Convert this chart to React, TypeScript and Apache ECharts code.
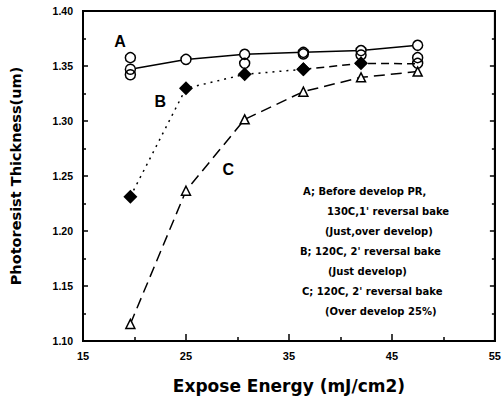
import React, { useEffect, useRef } from "react";
import * as echarts from "echarts";

const energy = [19.6, 25.0, 30.7, 36.4, 42.0, 47.5];
const seriesA = [1.347, 1.356, 1.3606, 1.3624, 1.364, 1.3688];
const seriesAExtra: [number, number][] = [
  [19.6, 1.3576], [19.6, 1.342], [30.7, 1.3524], [36.4, 1.361], [42.0, 1.360], [47.5, 1.3576], [47.5, 1.3524],
];
const seriesB = [1.2312, 1.3297, 1.3424, 1.347, 1.3524, 1.352];
const seriesC = [1.1155, 1.2366, 1.3015, 1.3267, 1.3397, 1.3449];
const curveLabels: [number, number, string][] = [
  [18.6, 1.3725, "A"],
  [22.5, 1.3175, "B"],
  [29.1, 1.2555, "C"],
];
const noteLines = [
  "A; Before develop PR,",
  "130C,1' reversal bake",
  "(Just,over develop)",
  "B; 120C, 2' reversal bake",
  "(Just develop)",
  "C; 120C, 2' reversal bake",
  "(Over develop 25%)",
];
const noteIndent = [303, 327, 325, 300, 328, 302, 325];

export default function App() {
  const ref = useRef<HTMLDivElement>(null);
  useEffect(() => {
    if (!ref.current) return;
    const chart = echarts.init(ref.current, null, { renderer: "svg" });
    const font = "Liberation Sans, Arial, sans-serif";
    const wide = "DejaVu Sans, sans-serif";
    const pair = (ys: number[]) => energy.map((x, i) => [x, ys[i]]);
    const bData = pair(seriesB);
    chart.setOption({
      animation: false,
      backgroundColor: "#fff",
      grid: { left: 82, right: 7, top: 11, bottom: 60, show: true, borderColor: "#000", borderWidth: 2 },
      xAxis: [
        {
          type: "value", min: 15, max: 55, interval: 10,
          name: "Expose Energy (mJ/cm2)", nameLocation: "middle", nameGap: 36,
          nameTextStyle: { fontFamily: wide, fontSize: 17, fontWeight: "bold", color: "#000" },
          axisLine: { lineStyle: { color: "#000", width: 2 } },
          axisTick: { inside: true, length: 7, lineStyle: { color: "#000", width: 1.5 } },
          minorTick: { show: true, splitNumber: 2, length: 4, lineStyle: { color: "#000", width: 1.5 } },
          axisLabel: { fontFamily: font, fontSize: 11, fontWeight: "bold", color: "#000", margin: 9 },
          splitLine: { show: false },
        },
      ],
      yAxis: [
        {
          type: "value", min: 1.1, max: 1.4, interval: 0.05,
          name: "Photoresist Thickness(um)", nameLocation: "middle", nameGap: 60,
          nameTextStyle: { fontFamily: wide, fontSize: 14.5, fontWeight: "bold", color: "#000" },
          axisLine: { lineStyle: { color: "#000", width: 2 } },
          axisTick: { inside: true, length: 5, lineStyle: { color: "#000", width: 1.5 } },
          minorTick: { show: true, splitNumber: 2, length: 3, lineStyle: { color: "#000", width: 1.5 } },
          axisLabel: { fontFamily: font, fontSize: 10.5, fontWeight: "bold", color: "#000", margin: 10, formatter: (v: number) => v.toFixed(2) },
          splitLine: { show: false },
        },
        {
          type: "value", min: 1.1, max: 1.4, interval: 0.05, position: "right",
          axisLine: { lineStyle: { color: "#000", width: 2 } },
          axisTick: { inside: true, length: 5, lineStyle: { color: "#000", width: 1.5 } },
          minorTick: { show: true, splitNumber: 2, length: 3, lineStyle: { color: "#000", width: 1.5 } },
          axisLabel: { show: false },
          splitLine: { show: false },
        },
      ],
      series: [
        {
          type: "line", data: pair(seriesA), symbol: "circle", symbolSize: 10,
          lineStyle: { color: "#000", width: 1.5 },
          itemStyle: { color: "#fff", borderColor: "#000", borderWidth: 1.5 },
          z: 3,
        },
        {
          type: "scatter", data: seriesAExtra, symbol: "circle", symbolSize: 10,
          itemStyle: { color: "rgba(255,255,255,0)", borderColor: "#000", borderWidth: 1.5, opacity: 1 },
          z: 4,
        },
        {
          type: "line", data: bData.slice(0, 4), symbol: "diamond", symbolSize: 14,
          lineStyle: { color: "#000", width: 1.5, type: [2, 5] },
          itemStyle: { color: "#000" },
          z: 5,
        },
        {
          type: "line", data: bData.slice(3), symbol: (_v: any, p: any) => (p.dataIndex === 2 ? "none" : "diamond"), symbolSize: 14,
          lineStyle: { color: "#000", width: 1.5, type: [8, 5] },
          itemStyle: { color: "#000" },
          z: 5,
        },
        {
          type: "line", data: pair(seriesC), symbol: "triangle", symbolSize: 9,
          lineStyle: { color: "#000", width: 1.5, type: [11, 6] },
          itemStyle: { color: "#fff", borderColor: "#000", borderWidth: 1.5 },
          z: 4,
        },
        {
          type: "scatter", data: curveLabels.map((d) => [d[0], d[1], d[2]]), symbolSize: 0,
          itemStyle: { opacity: 1 },
          label: {
            show: true, position: "inside", formatter: (p: any) => p.value[2],
            fontFamily: font, fontSize: 16, fontWeight: "bold", color: "#000",
          },
          silent: true,
        },
      ],
      graphic: noteLines.map((t, i) => ({
        type: "text", left: noteIndent[i], top: 186 + i * 20,
        style: { text: t, fontFamily: wide, fontSize: 10, fontWeight: "bold", fill: "#000" },
      })),
    });
    return () => chart.dispose();
  }, []);
  return <div ref={ref} style={{ width: 504, height: 401, position: "absolute", left: 0, top: 0 }} />;
}
